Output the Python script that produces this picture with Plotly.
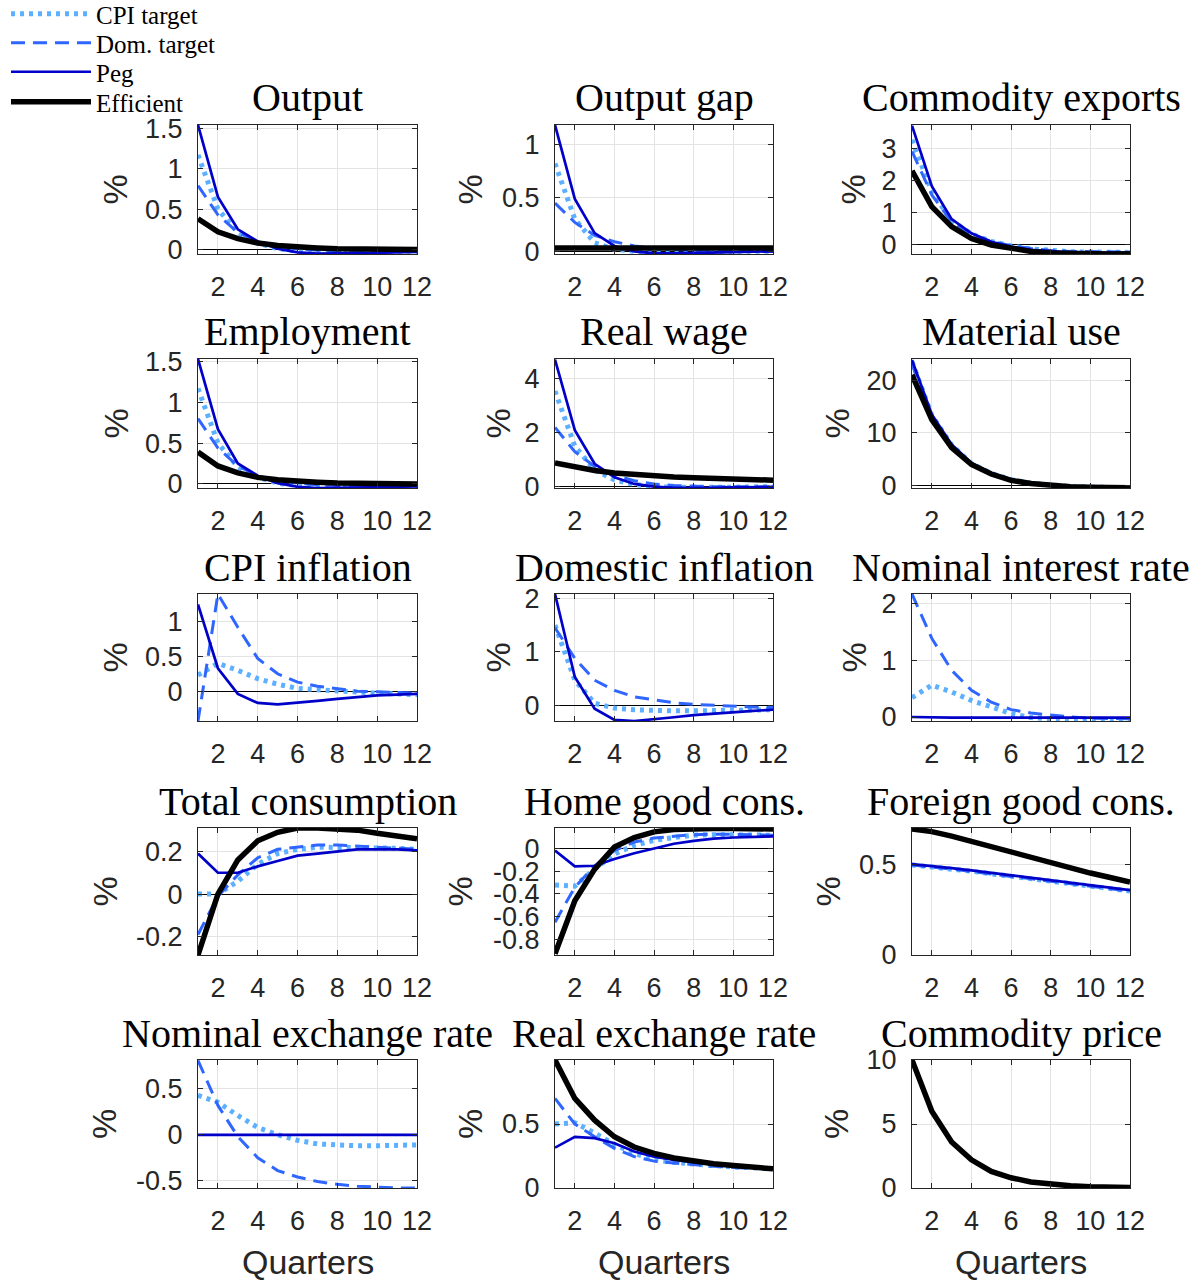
import plotly.graph_objects as go

# ---------------- data ----------------
quarters = list(range(1, 13))
x_ticks = [2, 4, 6, 8, 10, 12]

series_names = ["CPI target", "Dom. target", "Peg", "Efficient"]

output_cpi = [1.17, 0.50, 0.21, 0.08, 0.01, -0.02, -0.03, -0.03, -0.03, -0.025, -0.02, -0.02]
output_dom = [0.79, 0.43, 0.21, 0.10, 0.04, 0.01, -0.01, -0.02, -0.02, -0.02, -0.015, -0.01]
output_peg = [1.54, 0.65, 0.25, 0.10, 0.01, -0.035, -0.05, -0.05, -0.045, -0.04, -0.035, -0.03]
output_eff = [0.38, 0.22, 0.135, 0.08, 0.05, 0.03, 0.02, 0.01, 0.005, 0.0, 0.0, 0.0]

gap_cpi = [0.82, 0.30, 0.08, 0.02, 0.0, -0.01, -0.01, -0.01, 0.0, 0.0, 0.0, 0.0]
gap_dom = [0.45, 0.27, 0.15, 0.09, 0.05, 0.03, 0.02, 0.01, 0.01, 0.0, 0.0, 0.0]
gap_peg = [1.18, 0.49, 0.17, 0.05, 0.0, -0.02, -0.02, -0.015, -0.01, -0.005, 0.0, 0.0]
gap_eff = [0.03, 0.03, 0.03, 0.03, 0.03, 0.03, 0.03, 0.03, 0.03, 0.03, 0.03, 0.03]

comexp_cpi = [3.26, 1.65, 0.75, 0.34, 0.11, -0.03, -0.12, -0.18, -0.21, -0.22, -0.23, -0.23]
comexp_dom = [2.90, 1.55, 0.72, 0.33, 0.11, -0.02, -0.11, -0.17, -0.20, -0.21, -0.22, -0.22]
comexp_peg = [3.70, 1.82, 0.80, 0.36, 0.10, -0.05, -0.15, -0.20, -0.23, -0.24, -0.25, -0.25]
comexp_eff = [2.30, 1.19, 0.57, 0.20, 0.0, -0.12, -0.20, -0.25, -0.27, -0.28, -0.28, -0.27]

emp_cpi = [1.17, 0.50, 0.21, 0.08, 0.01, -0.02, -0.03, -0.03, -0.03, -0.025, -0.02, -0.02]
emp_dom = [0.80, 0.44, 0.22, 0.10, 0.04, 0.01, -0.01, -0.02, -0.02, -0.02, -0.015, -0.01]
emp_peg = [1.53, 0.67, 0.25, 0.10, 0.01, -0.035, -0.05, -0.05, -0.045, -0.04, -0.035, -0.03]
emp_eff = [0.39, 0.22, 0.135, 0.08, 0.05, 0.03, 0.02, 0.01, 0.005, 0.0, 0.0, 0.0]

wage_cpi = [3.55, 1.50, 0.62, 0.25, 0.08, 0.0, -0.02, -0.03, -0.02, -0.02, -0.01, 0.0]
wage_dom = [2.20, 1.30, 0.75, 0.42, 0.22, 0.10, 0.04, 0.01, 0.0, 0.0, 0.0, 0.0]
wage_peg = [4.72, 2.10, 0.85, 0.35, 0.10, 0.0, -0.04, -0.05, -0.04, -0.03, -0.02, -0.01]
wage_eff = [0.88, 0.72, 0.60, 0.51, 0.45, 0.40, 0.36, 0.33, 0.30, 0.28, 0.26, 0.24]

mat_cpi = [23.5, 13.3, 7.7, 4.2, 2.3, 1.15, 0.45, 0.08, -0.15, -0.30, -0.35, -0.38]
mat_dom = [23.0, 13.1, 7.6, 4.2, 2.3, 1.15, 0.45, 0.08, -0.15, -0.30, -0.35, -0.38]
mat_peg = [23.8, 13.5, 7.8, 4.3, 2.4, 1.2, 0.5, 0.1, -0.15, -0.30, -0.35, -0.40]
mat_eff = [21.0, 12.5, 7.2, 4.0, 2.2, 1.0, 0.4, 0.0, -0.20, -0.30, -0.35, -0.40]

cpiinf_cpi = [0.23, 0.40, 0.30, 0.18, 0.10, 0.04, 0.02, 0.0, -0.02, -0.03, -0.04, -0.05]
cpiinf_dom = [-0.43, 1.40, 0.92, 0.47, 0.25, 0.13, 0.07, 0.03, 0.0, -0.01, -0.02, -0.03]
cpiinf_peg = [1.25, 0.33, -0.04, -0.17, -0.19, -0.17, -0.14, -0.11, -0.08, -0.06, -0.05, -0.04]

dominf_cpi = [1.50, 0.47, 0.04, -0.05, -0.08, -0.10, -0.10, -0.10, -0.10, -0.09, -0.09, -0.08]
dominf_dom = [1.45, 0.88, 0.47, 0.28, 0.16, 0.10, 0.05, 0.02, 0.0, -0.02, -0.03, -0.04]
dominf_peg = [2.08, 0.53, -0.06, -0.27, -0.29, -0.26, -0.22, -0.18, -0.15, -0.12, -0.10, -0.08]

rate_cpi = [0.34, 0.56, 0.44, 0.29, 0.18, 0.06, -0.01, -0.04, -0.06, -0.07, -0.07, -0.07]
rate_dom = [2.16, 1.38, 0.82, 0.47, 0.26, 0.13, 0.07, 0.03, 0.0, -0.02, -0.03, -0.03]
rate_peg = [0.0, -0.01, -0.01, -0.01, -0.01, -0.01, -0.01, -0.01, -0.01, -0.01, -0.01, -0.01]

cons_cpi = [0.0, 0.0, 0.06, 0.14, 0.19, 0.21, 0.22, 0.22, 0.22, 0.22, 0.215, 0.21]
cons_dom = [-0.19, -0.01, 0.09, 0.17, 0.21, 0.22, 0.23, 0.23, 0.225, 0.22, 0.215, 0.21]
cons_peg = [0.19, 0.10, 0.10, 0.13, 0.155, 0.18, 0.19, 0.20, 0.21, 0.21, 0.21, 0.205]
cons_eff = [-0.286, 0.0, 0.16, 0.25, 0.29, 0.31, 0.31, 0.305, 0.30, 0.285, 0.275, 0.26]

home_cpi = [-0.32, -0.33, -0.18, -0.045, 0.03, 0.075, 0.10, 0.12, 0.125, 0.125, 0.125, 0.12]
home_dom = [-0.65, -0.34, -0.15, -0.015, 0.06, 0.095, 0.11, 0.125, 0.13, 0.13, 0.125, 0.12]
home_peg = [-0.015, -0.155, -0.15, -0.09, -0.04, 0.005, 0.045, 0.07, 0.09, 0.10, 0.105, 0.11]
home_eff = [-0.93, -0.46, -0.18, 0.015, 0.10, 0.15, 0.17, 0.18, 0.18, 0.18, 0.178, 0.175]

foreign_cpi = [0.50, 0.49, 0.477, 0.465, 0.451, 0.438, 0.425, 0.41, 0.395, 0.382, 0.368, 0.355]
foreign_dom = [0.50, 0.49, 0.477, 0.464, 0.45, 0.437, 0.424, 0.41, 0.395, 0.381, 0.367, 0.354]
foreign_peg = [0.505, 0.495, 0.482, 0.47, 0.456, 0.443, 0.43, 0.415, 0.40, 0.387, 0.373, 0.36]
foreign_eff = [0.70, 0.685, 0.66, 0.63, 0.60, 0.57, 0.54, 0.51, 0.48, 0.455, 0.43, 0.405]

ner_cpi = [0.43, 0.355, 0.21, 0.08, 0.0, -0.06, -0.10, -0.115, -0.12, -0.12, -0.12, -0.11]
ner_dom = [0.81, 0.32, -0.02, -0.25, -0.39, -0.46, -0.51, -0.54, -0.56, -0.57, -0.58, -0.58]
ner_peg = [0.0, 0.0, 0.0, 0.0, 0.0, 0.0, 0.0, 0.0, 0.0, 0.0, 0.0, 0.0]

rer_cpi = [0.50, 0.51, 0.43, 0.34, 0.27, 0.22, 0.20, 0.185, 0.175, 0.165, 0.16, 0.15]
rer_dom = [0.70, 0.50, 0.40, 0.31, 0.245, 0.21, 0.195, 0.18, 0.17, 0.16, 0.155, 0.15]
rer_peg = [0.315, 0.40, 0.39, 0.35, 0.285, 0.245, 0.22, 0.20, 0.185, 0.175, 0.165, 0.15]
rer_eff = [1.0, 0.70, 0.53, 0.40, 0.32, 0.27, 0.235, 0.21, 0.19, 0.175, 0.16, 0.15]

comprice_eff = [10.0, 6.0, 3.6, 2.2, 1.3, 0.8, 0.47, 0.28, 0.17, 0.10, 0.06, 0.04]

panel_titles = ["Output", "Output gap", "Commodity exports",
                "Employment", "Real wage", "Material use",
                "CPI inflation", "Domestic inflation", "Nominal interest rate",
                "Total consumption", "Home good cons.", "Foreign good cons.",
                "Nominal exchange rate", "Real exchange rate", "Commodity price"]

panel_series = [
    [output_cpi, output_dom, output_peg, output_eff],
    [gap_cpi, gap_dom, gap_peg, gap_eff],
    [comexp_cpi, comexp_dom, comexp_peg, comexp_eff],
    [emp_cpi, emp_dom, emp_peg, emp_eff],
    [wage_cpi, wage_dom, wage_peg, wage_eff],
    [mat_cpi, mat_dom, mat_peg, mat_eff],
    [cpiinf_cpi, cpiinf_dom, cpiinf_peg, None],
    [dominf_cpi, dominf_dom, dominf_peg, None],
    [rate_cpi, rate_dom, rate_peg, None],
    [cons_cpi, cons_dom, cons_peg, cons_eff],
    [home_cpi, home_dom, home_peg, home_eff],
    [foreign_cpi, foreign_dom, foreign_peg, foreign_eff],
    [ner_cpi, ner_dom, ner_peg, None],
    [rer_cpi, rer_dom, rer_peg, rer_eff],
    [None, None, None, comprice_eff],
]

y_tickvals = [
    [0, 0.5, 1, 1.5], [0, 0.5, 1], [0, 1, 2, 3],
    [0, 0.5, 1, 1.5], [0, 2, 4], [0, 10, 20],
    [0, 0.5, 1], [0, 1, 2], [0, 1, 2],
    [-0.2, 0, 0.2], [-0.8, -0.6, -0.4, -0.2, 0], [0, 0.5],
    [-0.5, 0, 0.5], [0, 0.5], [0, 5, 10],
]

y_ranges = [
    [-0.055, 1.54], [-0.025, 1.18], [-0.28, 3.72],
    [-0.05, 1.53], [-0.05, 4.74], [-0.45, 24.0],
    [-0.43, 1.40], [-0.29, 2.08], [-0.07, 2.16],
    [-0.286, 0.31], [-0.94, 0.184], [0, 0.705],
    [-0.58, 0.815], [0, 1.0], [0, 10],
]

# ---------------- styles / layout ----------------
W, H = 1202, 1284
col_px = [(198, 417), (555, 773), (912, 1130)]
row_px = [(125, 254), (359, 488), (594, 721), (828, 955), (1060, 1188)]
# distance (px) from each panel's left axis to the centre of its "%" label
ylabel_gap_px = [83, 85, 59,
                 83, 58, 76,
                 84, 58, 59,
                 94, 96, 85,
                 94, 85, 76]
legend_rows_px = [14, 43, 72, 102]

styles = [
    dict(color="#5cb0ff", width=5, dash="4px,5px"),
    dict(color="#2f66ff", width=3, dash="14px,8px"),
    dict(color="#0000c8", width=2.7, dash="solid"),
    dict(color="#000000", width=5.5, dash="solid"),
]

tick_font = dict(family="Liberation Sans, Arial, sans-serif", size=27, color="#262626")
label_font = dict(family="Liberation Sans, Arial, sans-serif", size=34, color="#262626")
title_font = dict(family="Liberation Serif, Times New Roman, serif", size=40, color="#000000")
legend_font = dict(family="Liberation Serif, Times New Roman, serif", size=25, color="#000000")

fig = go.Figure()
layout = dict(
    width=W, height=H,
    margin=dict(l=0, r=0, t=0, b=0, autoexpand=False),
    paper_bgcolor="white", plot_bgcolor="white",
    showlegend=True,
)
legend_ids = ["legend", "legend2", "legend3", "legend4"]
for k, lid in enumerate(legend_ids):
    layout[lid] = dict(xref="container", yref="container", x=6 / W, y=1 - legend_rows_px[k] / H,
                       xanchor="left", yanchor="middle", font=legend_font,
                       bgcolor="rgba(0,0,0,0)", itemwidth=80, itemclick=False,
                       borderwidth=0)

annotations = []

def fmt(v):
    return ("%g" % v)

for i, (title, series) in enumerate(zip(panel_titles, panel_series)):
    r, c = divmod(i, 3)
    n = i + 1
    xa = "x" if n == 1 else "x%d" % n
    ya = "y" if n == 1 else "y%d" % n
    x0, x1 = col_px[c]
    t0, b0 = row_px[r]
    layout["xaxis" if n == 1 else "xaxis%d" % n] = dict(
        domain=[x0 / W, x1 / W], anchor=ya, range=[1, 12],
        tickmode="array", tickvals=x_ticks, ticktext=[fmt(v) for v in x_ticks],
        ticks="inside", ticklen=5, tickcolor="#262626",
        showline=True, linecolor="#262626", linewidth=1, mirror="ticks",
        showgrid=True, gridcolor="#e3e3e3", gridwidth=1, zeroline=False,
        tickfont=tick_font, ticklabelstandoff=9,
    )
    yt = y_tickvals[i]
    layout["yaxis" if n == 1 else "yaxis%d" % n] = dict(
        domain=[1 - b0 / H, 1 - t0 / H], anchor=xa, range=y_ranges[i],
        tickmode="array", tickvals=yt, ticktext=[fmt(v) for v in yt],
        ticks="inside", ticklen=5, tickcolor="#262626",
        showline=True, linecolor="#262626", linewidth=1, mirror="ticks",
        showgrid=True, gridcolor="#e3e3e3", gridwidth=1,
        zeroline=True, zerolinecolor="#000000", zerolinewidth=1,
        tickfont=tick_font, ticklabelstandoff=9,
    )
    for k, data in enumerate(series):
        if data is None:
            continue
        fig.add_trace(go.Scatter(
            x=quarters, y=data, mode="lines", name=series_names[k],
            line=styles[k], xaxis=xa, yaxis=ya,
            showlegend=(i == 0), legend=legend_ids[k], hoverinfo="skip",
        ))
    annotations.append(dict(
        x=(x0 + x1) / 2 / W, y=1 - (t0 - 27) / H, xref="paper", yref="paper",
        text=title, showarrow=False, font=title_font, xanchor="center", yanchor="middle",
    ))
    annotations.append(dict(
        x=(x0 - ylabel_gap_px[i]) / W, y=1 - (t0 + b0) / 2 / H, xref="paper", yref="paper",
        text="%", textangle=-90, showarrow=False, font=label_font,
        xanchor="center", yanchor="middle",
    ))
    if r == 4:
        annotations.append(dict(
            x=(x0 + x1) / 2 / W, y=1 - 1262 / H, xref="paper", yref="paper",
            text="Quarters", showarrow=False, font=label_font, xanchor="center", yanchor="middle",
        ))

layout["annotations"] = annotations
fig.update_layout(**layout)
fig.write_html("out.html", config={"displayModeBar": False},
               post_script="document.body.style.margin='0px';document.body.style.overflow='hidden';")
